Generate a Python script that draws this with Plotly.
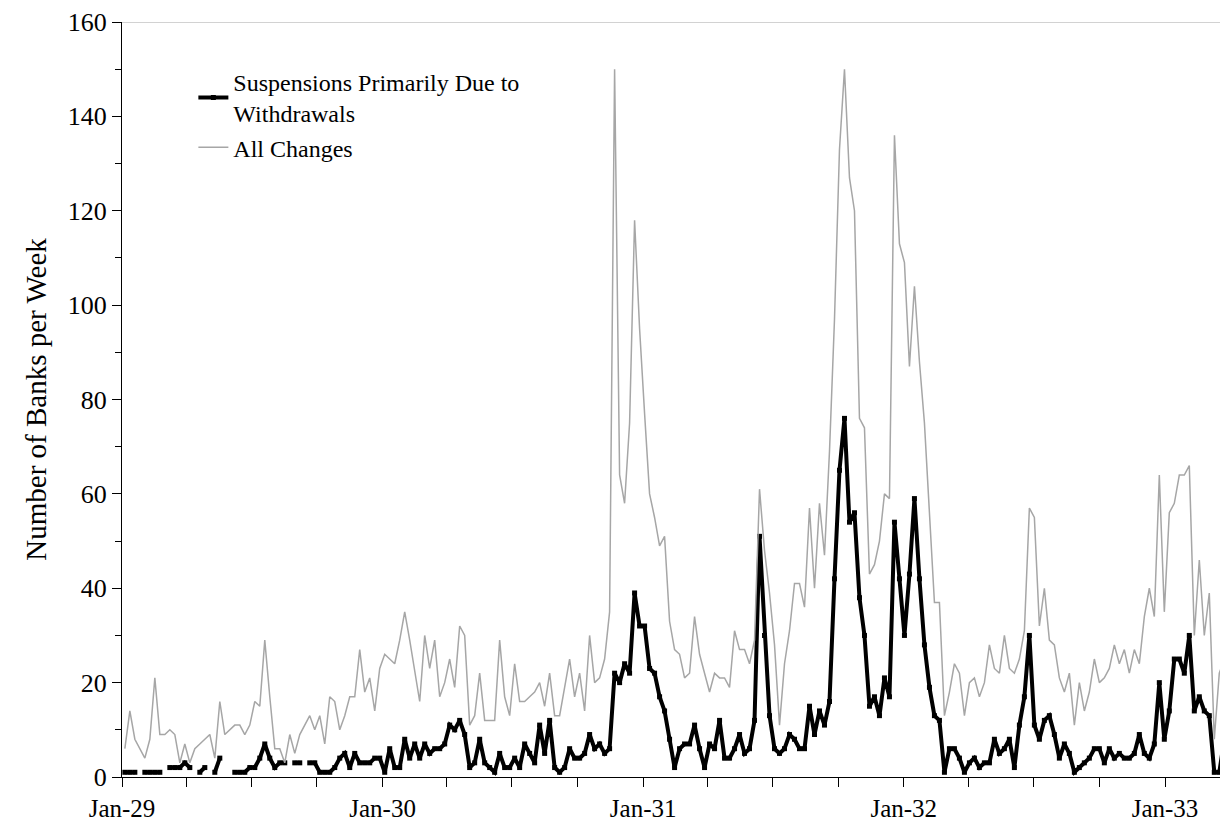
import pandas as pd
import plotly.graph_objects as go

# weekly observations, first week of Jan 1929 onwards
weeks = pd.date_range("1929-01-05", periods=221, freq="7D")

all_changes = [
    # 1929
    6, 14, 8, 6, 4, 8, 21, 9, 9, 10, 9, 3, 7, 3, 6, 7, 8, 9, 4, 16,
    9, 10, 11, 11, 9, 11, 16, 15, 29, 17, 6, 6, 3, 9, 5, 9, 11, 13, 10, 13,
    7, 17, 16, 10, 13, 17, 17, 27, 18, 21, 14, 23,
    # 1930
    26, 25, 24, 29, 35, 29, 22, 16, 30, 23, 29, 17, 20, 25, 19, 32, 30, 11, 13, 22,
    12, 12, 12, 29, 17, 13, 24, 16, 16, 17, 18, 20, 15, 22, 13, 13, 19, 25, 17, 22,
    14, 30, 20, 21, 25, 35,
    # late 1930 - 1933
    150, 64, 58, 75, 118, 95, 77, 60, 55, 49, 51, 33, 27, 26, 21, 22, 34, 26, 22, 18,
    22, 21, 21, 19, 31, 27, 27, 24, 29, 61, 48, 39, 28, 11, 24, 31, 41, 41, 36, 57,
    40, 58, 47, 69, 97, 133, 150, 127, 120, 76, 74, 43, 45, 50, 60, 59, 136, 113, 109, 87,
    104, 88, 75, 55, 37, 37, 13, 18, 24, 22, 13, 20, 21, 17, 20, 28, 23, 22, 30, 23,
    22, 25, 31, 57, 55, 32, 40, 29, 28, 21, 18, 22, 11, 20, 14, 18, 25, 20, 21, 23,
    28, 24, 27, 22, 27, 24, 34, 40, 34, 64, 35, 56, 58, 64, 64, 66, 30, 46, 30, 39,
    8, 22, 25,
]

withdrawals = [
    # 1929 (gaps = no observation)
    1, 1, 1, None, 1, 1, 1, 1, None, 2, 2, 2, 3, 2, None, 1, 2, None, 1, 4,
    None, None, 1, 1, 1, 2, 2, 4, 7, 4, 2, 3, 3, None, 3, 3, None, 3, 3, 1,
    1, 1, 2, 4, 5, 2, 5, 3, 3, 3, 4, 4,
    # 1930
    1, 6, 2, 2, 8, 4, 7, 4, 7, 5, 6, 6, 7, 11, 10, 12, 9, 2, 3, 8,
    3, 2, 1, 5, 2, 2, 4, 2, 7, 5, 3, 11, 5, 12, 2, 1, 2, 6, 4, 4,
    5, 9, 6, 7, 5, 6,
    # late 1930 - 1933
    22, 20, 24, 22, 39, 32, 32, 23, 22, 17, 14, 8, 2, 6, 7, 7, 11, 6, 2, 7,
    6, 12, 4, 4, 6, 9, 5, 6, 12, 51, 30, 13, 6, 5, 6, 9, 8, 6, 6, 15,
    9, 14, 11, 16, 42, 65, 76, 54, 56, 38, 30, 15, 17, 13, 21, 17, 54, 42, 30, 43,
    59, 42, 28, 19, 13, 12, 1, 6, 6, 4, 1, 3, 4, 2, 3, 3, 8, 5, 6, 8,
    2, 11, 17, 30, 11, 8, 12, 13, 9, 4, 7, 5, 1, 2, 3, 4, 6, 6, 3, 6,
    4, 5, 4, 4, 5, 9, 5, 4, 7, 20, 8, 14, 25, 25, 22, 30, 14, 17, 14, 13,
    1, 1, 8,
]

quarter_ticks = pd.date_range("1929-01-01", "1933-01-01", freq="QS")
tick_text = [d.strftime("%b-%y") if d.month == 1 else "" for d in quarter_ticks]

fig = go.Figure()
fig.add_trace(go.Scatter(
    x=weeks, y=withdrawals, name="Suspensions Primarily Due to<br>Withdrawals",
    mode="lines+markers", connectgaps=False,
    line=dict(color="black", width=4),
    marker=dict(symbol="square", size=5, color="black"),
))
fig.add_trace(go.Scatter(
    x=weeks, y=all_changes, name="All Changes", mode="lines",
    line=dict(color="#a6a6a6", width=1.5),
))

fig.add_shape(type="line", xref="paper", yref="y", x0=0, x1=1, y0=160, y1=160,
              line=dict(color="#a6a6a6", width=1))

# page body adds ~8px margin, so the figure is shifted/shrunk to compensate
fig.update_layout(
    width=1212, height=815,
    margin=dict(l=114, r=0, t=14, b=46),
    plot_bgcolor="white", paper_bgcolor="white",
    font=dict(family="Liberation Serif", size=25, color="black"),
    legend=dict(x=0.065, y=0.95, xanchor="left", yanchor="top",
                font=dict(size=24), bgcolor="rgba(0,0,0,0)",
                tracegroupgap=2),
    xaxis=dict(range=["1929-01-01", "1933-03-19"], tickvals=quarter_ticks,
               ticktext=tick_text, ticks="outside", ticklen=9,
               tickcolor="black", showline=True, linecolor="black",
               linewidth=1, showgrid=False, zeroline=False,
               tickfont=dict(size=25)),
    yaxis=dict(range=[0, 160], dtick=20, ticks="outside", ticklen=9,
               tickcolor="black", showline=True, linecolor="black",
               linewidth=1, showgrid=False, zeroline=False,
               tickfont=dict(size=26),
               title=dict(text="Number of Banks per Week", standoff=12,
                          font=dict(size=29)),
               minor=dict(dtick=10, ticks="outside", ticklen=6,
                          tickcolor="black")),
)

fig.write_html("out.html")
